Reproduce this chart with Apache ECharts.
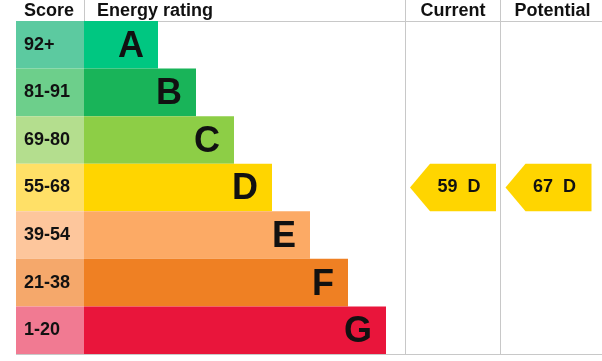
<!DOCTYPE html>
<html><head><meta charset="utf-8">
<script src="https://cdn.jsdelivr.net/npm/echarts@6/dist/echarts.min.js"></script>
<style>html,body{margin:0;padding:0;background:#fff}#c{width:602px;height:361px}</style>
</head><body><div id="c"></div>
<script>
// ---- data ----
const bands = ['A','B','C','D','E','F','G'];
const scoreRanges = ['92+','81-91','69-80','55-68','39-54','21-38','1-20'];
const scoreLowerBounds = [92,81,69,55,39,21,1];
const scoreColumn = [68,68,68,68,68,68,68];
const barLengths = [74,112,150,188,226,264,302];
const bandColors = ['#00c781','#19b459','#8dce46','#ffd500','#fcaa65','#ef8023','#e9153b'];
const scoreColors = ['#5ccaa0','#6dcf8b','#b4de8e','#ffe067','#fdc69c','#f5a86b','#f17a92'];
const columns = ['Current','Potential'];
const ratings = [59, 67];
const headers = ['Score','Energy rating'];

const FONT = '"Liberation Sans", Arial, sans-serif';
const LINE = '#c8c8c8';
function bandIndexOf(v){ for(let i=0;i<scoreLowerBounds.length;i++){ if(v>=scoreLowerBounds[i]) return i; } return bands.length-1; }

const chart = echarts.init(document.getElementById('c'), null, {renderer:'canvas'});

const TOP = 21, H = 333;
const grids = [
  {left:16, top:TOP, width:586, height:H, outerBoundsMode:'none'},
  {left:406, top:TOP, width:94, height:H, outerBoundsMode:'none'},
  {left:500, top:TOP, width:97, height:H, outerBoundsMode:'none'}
];
const hidden = {axisLine:{show:false}, axisTick:{show:false}, axisLabel:{show:false}, splitLine:{show:false}};
const xAxes = [
  Object.assign({type:'value', gridIndex:0, min:0, max:586}, hidden),
  Object.assign({type:'category', gridIndex:1, data:[columns[0]]}, hidden),
  Object.assign({type:'category', gridIndex:2, data:[columns[1]]}, hidden)
];
const yAxes = [0,1,2].map(g => Object.assign({type:'category', gridIndex:g, data:bands, inverse:true}, hidden));

function arrowRenderer(col){
  return function(params, api){
    const c = api.coord([api.value(0), api.value(1)]);
    const bh = api.size([0,1])[1];
    const w = 86, tip = 20;
    const x0 = c[0]-w/2, x1 = c[0]+w/2, y0 = c[1]-bh/2, y1 = c[1]+bh/2;
    const bi = bandIndexOf(ratings[col]);
    return {type:'group', children:[
      {type:'polygon', shape:{points:[[x0,c[1]],[x0+tip,y0],[x1,y0],[x1,y1],[x0+tip,y1]]}, style:{fill:bandColors[bi]}},
      {type:'text', style:{text: ratings[col] + '  ' + bands[bi], x:c[0]+6, y:c[1], align:'center', verticalAlign:'middle', font:'bold 18px ' + FONT, fill:'#111'}}
    ]};
  };
}

const series = [
  {type:'bar', name:'score', xAxisIndex:0, yAxisIndex:0, stack:'r', barWidth:'100%', barCategoryGap:'0%',
   data: scoreColumn.map((v,i)=>({value:v, itemStyle:{color:scoreColors[i]}})),
   label:{show:true, position:'insideLeft', distance:8, formatter:p=>scoreRanges[p.dataIndex], fontFamily:FONT, fontWeight:'bold', fontSize:18, color:'#111'},
   silent:true},
  {type:'bar', name:'rating', xAxisIndex:0, yAxisIndex:0, stack:'r', barWidth:'100%', barCategoryGap:'0%',
   data: barLengths.map((v,i)=>({value:v, itemStyle:{color:bandColors[i]}})),
   label:{show:true, position:'insideRight', distance:14, offset:[0,2], formatter:p=>bands[p.dataIndex], fontFamily:FONT, fontWeight:'bold', fontSize:36, color:'#111'},
   silent:true}
];
columns.forEach((col, i) => {
  series.push({type:'custom', xAxisIndex:i+1, yAxisIndex:i+1, renderItem: arrowRenderer(i),
    data:[[0, bandIndexOf(ratings[i])]], silent:true});
});

const hdrStyle = {font:'bold 18px ' + FONT, fill:'#111', verticalAlign:'middle'};
const graphic = [
  {type:'line', shape:{x1:16, y1:21.5, x2:602, y2:21.5}, style:{stroke:LINE, lineWidth:1}, z:-1},
  {type:'line', shape:{x1:16, y1:354.5, x2:602, y2:354.5}, style:{stroke:LINE, lineWidth:1}, z:-1},
  {type:'line', shape:{x1:84.5, y1:0, x2:84.5, y2:21}, style:{stroke:LINE, lineWidth:1}},
  {type:'line', shape:{x1:405.5, y1:0, x2:405.5, y2:354}, style:{stroke:LINE, lineWidth:1}, z:-1},
  {type:'line', shape:{x1:500.5, y1:0, x2:500.5, y2:354}, style:{stroke:LINE, lineWidth:1}, z:-1},
  {type:'text', x:24, y:11, style:Object.assign({text:headers[0], align:'left'}, hdrStyle)},
  {type:'text', x:97, y:11, style:Object.assign({text:headers[1], align:'left'}, hdrStyle)},
  {type:'text', x:453, y:11, style:Object.assign({text:columns[0], align:'center'}, hdrStyle)},
  {type:'text', x:552.5, y:11, style:Object.assign({text:columns[1], align:'center'}, hdrStyle)}
];

chart.setOption({animation:false, backgroundColor:'#fff', grid:grids, xAxis:xAxes, yAxis:yAxes, series:series, graphic:graphic});
</script></body></html>
